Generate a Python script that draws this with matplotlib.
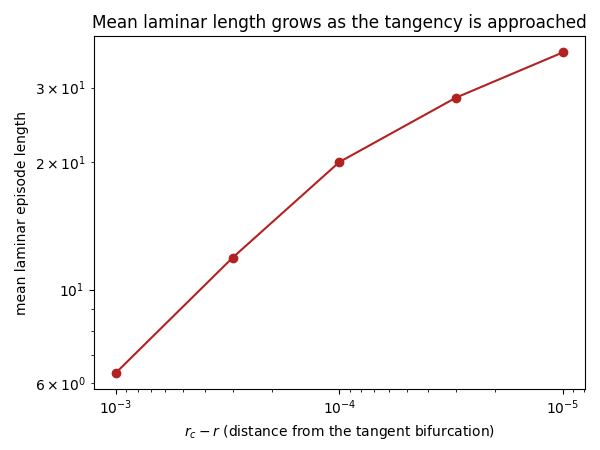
import matplotlib
matplotlib.use("Agg")
import matplotlib.pyplot as plt

eps = [1e-3, 3e-4, 1e-4, 3e-5, 1e-5]
mean_len = [6.36, 11.9, 20.0, 28.4, 36.3]

fig, ax = plt.subplots(figsize=(6, 4.5), dpi=100)
ax.plot(eps, mean_len, "o-", color="firebrick")
ax.set_xscale("log")
ax.set_yscale("log")
ax.invert_xaxis()
ax.set_xlabel(r"$r_c - r$ (distance from the tangent bifurcation)")
ax.set_ylabel("mean laminar episode length")
ax.set_title("Mean laminar length grows as the tangency is approached", fontsize=12.2)
fig.subplots_adjust(left=0.156, right=0.975, top=0.919, bottom=0.136)
fig.savefig("out.png")
